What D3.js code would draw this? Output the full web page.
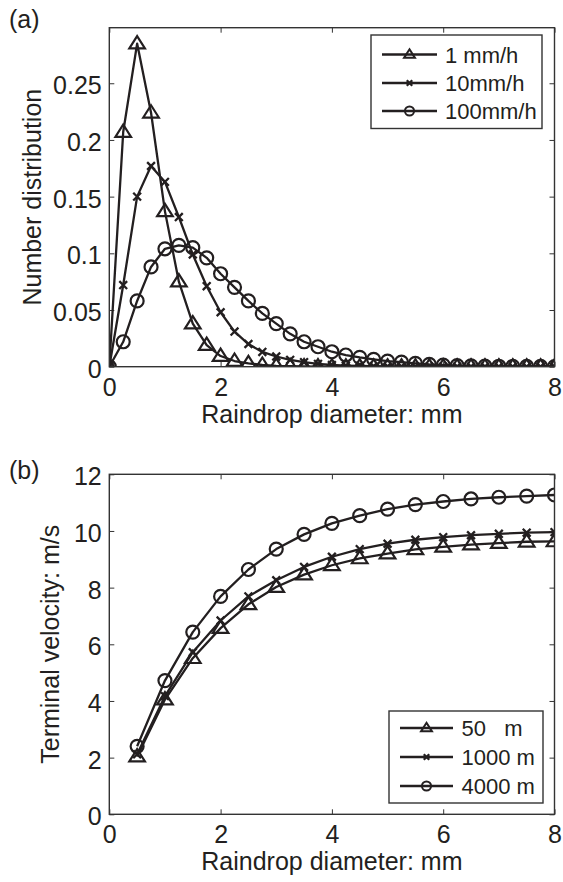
<!DOCTYPE html>
<html><head><meta charset="utf-8">
<script src="https://cdn.jsdelivr.net/npm/d3@7/dist/d3.min.js"></script>
<style>
body{margin:0;background:#fff}
svg{display:block}
text{font-family:"Liberation Sans",Arial,Helvetica,sans-serif;fill:#231f20}
</style>
</head><body>
<script>
// ---------- DATA ----------
const diametersA = [0,0.25,0.5,0.75,1,1.25,1.5,1.75,2,2.25,2.5,2.75,3,3.25,3.5,3.75,4,4.25,4.5,4.75,5,5.25,5.5,5.75,6,6.25,6.5,6.75,7,7.25,7.5,7.75,8];
const rate1   = [0,0.207,0.285,0.224,0.137,0.075,0.038,0.019,0.0094,0.005,0.003,0.0015,0.0008,0.0004,0.0002,0.0001,0,0,0,0,0,0,0,0,0,0,0,0,0,0,0,0,0];
const rate10  = [0,0.072,0.150,0.177,0.163,0.132,0.099,0.071,0.048,0.031,0.020,0.013,0.009,0.006,0.004,0.0025,0.0015,0.001,0.0006,0.0004,0.0003,0.0002,0.0001,0.0001,0,0,0,0,0,0,0,0,0];
const rate100 = [0,0.022,0.058,0.088,0.104,0.107,0.105,0.096,0.082,0.070,0.058,0.047,0.038,0.029,0.022,0.0176,0.0132,0.0103,0.0082,0.0065,0.005,0.004,0.003,0.002,0.0015,0.001,0.0008,0.0006,0.0004,0.0003,0.0002,0.0002,0.0001];
const seriesNamesA = ["1 mm/h","10mm/h","100mm/h"];
const xTicks  = [0,2,4,6,8];
const yTicksA = [0,0.05,0.1,0.15,0.2,0.25];

const diametersB = [0.5,1,1.5,2,2.5,3,3.5,4,4.5,5,5.5,6,6.5,7,7.5,8];
const alt50   = [2.04,4.05,5.51,6.57,7.41,8.02,8.46,8.79,9.03,9.20,9.35,9.44,9.52,9.57,9.62,9.63];
const alt1000 = [2.12,4.17,5.72,6.84,7.69,8.26,8.73,9.09,9.36,9.55,9.69,9.78,9.85,9.90,9.94,9.96];
const alt4000 = [2.40,4.72,6.43,7.69,8.64,9.36,9.88,10.27,10.54,10.77,10.93,11.04,11.13,11.19,11.23,11.27];
const seriesNamesB = ["50   m","1000 m","4000 m"];
const yTicksB = [0,2,4,6,8,10,12];
const markers = ["triangle","x","circle"];

// ---------- DRAW ----------
const W = 563, H = 882;
const ink = "#231f20";
const svg = d3.select("body").append("svg").attr("width", W).attr("height", H);

function drawMarker(g, type, x, y, big) {
  const s = big ? 1 : 0.7;
  const sw = big ? 2.2 : 2;
  if (type === "triangle") {
    const hw = 7.8*s, top = -7.5*s, bot = 4.8*s;
    g.append("path").attr("d", `M${x},${y+top}L${x+hw},${y+bot}L${x-hw},${y+bot}Z`)
      .attr("fill","none").attr("stroke",ink).attr("stroke-width",sw).attr("stroke-linejoin","miter");
  } else if (type === "circle") {
    g.append("circle").attr("cx",x).attr("cy",y).attr("r",6.5*s)
      .attr("fill","none").attr("stroke",ink).attr("stroke-width",sw);
  } else {
    const d = 3.9*s;
    g.append("path").attr("d",`M${x-d},${y-d}L${x+d},${y+d}M${x-d},${y+d}L${x+d},${y-d}`)
      .attr("stroke",ink).attr("stroke-width",2.3);
  }
}

function panel(o) {
  const x = d3.scaleLinear().domain([0,8]).range([o.x0,o.x1]);
  const y = d3.scaleLinear().domain(o.yDomain).range([o.yB,o.yT]);
  const g = svg.append("g");
  const fs = "25px";

  // axes
  const ax = g.append("g").attr("transform",`translate(0,${o.yB})`)
    .call(d3.axisBottom(x).tickValues(xTicks).tickSize(-5).tickSizeOuter(0).tickPadding(11.3).tickFormat(d=>String(d)));
  const ay = g.append("g").attr("transform",`translate(${o.x0},0)`)
    .call(d3.axisLeft(y).tickValues(o.yTicks).tickSize(-5).tickSizeOuter(0).tickPadding(7.6).tickFormat(d=>String(d)));
  g.append("g").attr("transform",`translate(0,${o.yT})`)
    .call(d3.axisTop(x).tickValues(xTicks).tickSize(-5).tickSizeOuter(0).tickFormat(""));
  g.append("g").attr("transform",`translate(${o.x1},0)`)
    .call(d3.axisRight(y).tickValues(o.yTicks).tickSize(-5).tickSizeOuter(0).tickFormat(""));
  g.selectAll(".domain").remove();
  g.selectAll(".tick line").attr("stroke","#333").attr("stroke-width",1);
  g.selectAll(".tick text").attr("font-size",fs).attr("font-family",'"Liberation Sans",Arial,sans-serif').attr("fill",ink);
  ay.selectAll(".tick text").attr("dy","0.42em");

  // clip
  const cid = "clip"+o.id;
  svg.append("defs").append("clipPath").attr("id",cid).append("rect")
    .attr("x",o.x0).attr("y",o.yT).attr("width",o.x1-o.x0).attr("height",o.yB-o.yT);
  const pg = g.append("g").attr("clip-path",`url(#${cid})`);
  const line = d3.line();
  o.series.forEach((s,i)=>{
    const pts = o.xs.map((d,j)=>[x(d), y(s[j])]);
    pg.append("path").attr("d",line(pts)).attr("fill","none").attr("stroke",ink).attr("stroke-width",2.3).attr("stroke-linejoin","round");
  });
  o.series.forEach((s,i)=>{
    o.xs.forEach((d,j)=>drawMarker(pg, markers[i], x(d), y(s[j]), true));
  });

  // box
  g.append("rect").attr("x",o.x0).attr("y",o.yT).attr("width",o.x1-o.x0).attr("height",o.yB-o.yT)
    .attr("fill","none").attr("stroke","#333").attr("stroke-width",1.4);

  // labels
  g.append("text").attr("x",(o.x0+o.x1)/2).attr("y",o.yB+56).attr("text-anchor","middle")
    .attr("font-size",fs).text("Raindrop diameter: mm");
  g.append("text").attr("transform",`translate(${o.ylx},${(o.yT+o.yB)/2}) rotate(-90)`)
    .attr("text-anchor","middle").attr("font-size",fs).text(o.ylabel);
  g.append("text").attr("x",9).attr("y",o.tagY).attr("font-size",fs).text(o.tag);

  // legend
  const L = o.legend;
  const lg = g.append("g");
  lg.append("rect").attr("x",L.x0).attr("y",L.y0).attr("width",L.x1-L.x0).attr("height",L.y1-L.y0)
    .attr("fill","#fff").attr("stroke","#333").attr("stroke-width",1.4);
  o.names.forEach((n,i)=>{
    const ry = L.rows[i];
    lg.append("line").attr("x1",L.lx0).attr("x2",L.lx1).attr("y1",ry).attr("y2",ry)
      .attr("stroke",ink).attr("stroke-width",2.3);
    drawMarker(lg, markers[i], (L.lx0+L.lx1)/2, ry, false);
    lg.append("text").attr("x",L.tx).attr("y",ry+8).attr("font-size","22px")
      .attr("xml:space","preserve").style("white-space","pre").text(n);
  });
}

panel({id:"a", x0:109.3, x1:554.5, yT:27.7, yB:366.7, yDomain:[0,0.299], yTicks:yTicksA,
  xs:diametersA, series:[rate1,rate10,rate100], names:seriesNamesA,
  ylabel:"Number distribution", ylx:40.5, tag:"(a)", tagY:28,
  legend:{x0:371,x1:542,y0:35,y1:128.5,rows:[54.5,83,111],lx0:382,lx1:437,tx:445}});

panel({id:"b", x0:109.3, x1:554.5, yT:474.3, yB:814.3, yDomain:[0,12], yTicks:yTicksB,
  xs:diametersB, series:[alt50,alt1000,alt4000], names:seriesNamesB,
  ylabel:"Terminal velocity: m/s", ylx:59, tag:"(b)", tagY:478.5,
  legend:{x0:389,x1:543,y0:711,y1:803,rows:[728,757,786],lx0:400,lx1:453,tx:461.5}});
</script>
</body></html>
